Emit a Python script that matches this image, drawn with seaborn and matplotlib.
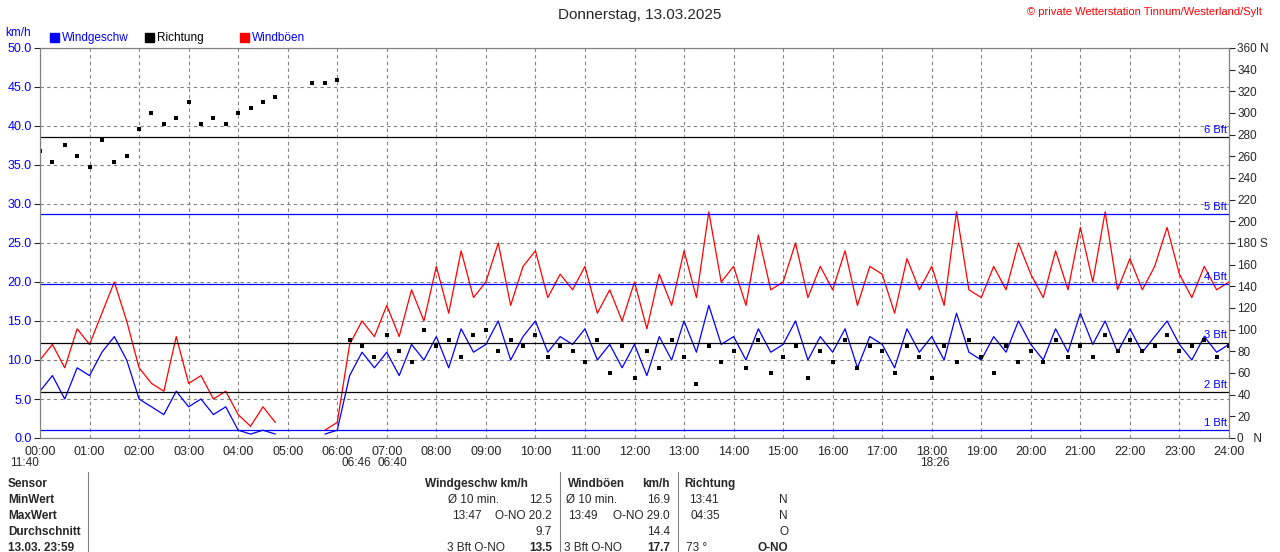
import numpy as np
import pandas as pd
import matplotlib
matplotlib.use("Agg")
import matplotlib.pyplot as plt
import seaborn as sns

nan = np.nan
# 15-minute readings 00:00 .. 24:00
speed = [6, 8, 5, 9, 8, 11, 13, 10, 5, 4, 3, 6, 4, 5, 3, 4, 1, 0.5, 1, 0.5,
         nan, nan, nan, 0.5, 1, 8, 11, 9, 11, 8, 12, 10, 13, 9, 14, 11, 12, 15, 10, 13,
         15, 11, 13, 12, 14, 10, 12, 9, 12, 8, 13, 10, 15, 11, 17, 12, 13, 10, 14, 11,
         12, 15, 10, 13, 11, 14, 9, 13, 12, 9, 14, 11, 13, 10, 16, 11, 10, 13, 11, 15,
         12, 10, 14, 11, 16, 12, 15, 11, 14, 11, 13, 15, 12, 10, 13, 11, 12]
gusts = [10, 12, 9, 14, 12, 16, 20, 15, 9, 7, 6, 13, 7, 8, 5, 6, 3, 1.5, 4, 2,
         nan, nan, nan, 1, 2, 12, 15, 13, 17, 13, 19, 15, 22, 16, 24, 18, 20, 25, 17, 22,
         24, 18, 21, 19, 22, 16, 19, 15, 20, 14, 21, 17, 24, 18, 29, 20, 22, 17, 26, 19,
         20, 25, 18, 22, 19, 24, 17, 22, 21, 16, 23, 19, 22, 17, 29, 19, 18, 22, 19, 25,
         21, 18, 24, 19, 27, 20, 29, 19, 23, 19, 22, 27, 21, 18, 22, 19, 20]
direction = [265, 255, 270, 260, 250, 275, 255, 260, 285, 300, 290, 295, 310, 290, 295, 290,
             300, 305, 310, 315, nan, nan, 328, 328, 330, 90, 85, 75, 95, 80, 70, 100,
             85, 90, 75, 95, 100, 80, 90, 85, 95, 75, 85, 80, 70, 90, 60, 85,
             55, 80, 65, 90, 75, 50, 85, 70, 80, 65, 90, 60, 75, 85, 55, 80,
             70, 90, 65, 85, 80, 60, 85, 75, 55, 85, 70, 90, 75, 60, 85, 70,
             80, 70, 90, 75, 85, 75, 95, 80, 90, 80, 85, 95, 80, 85, 90, 75, 85]
hours = np.arange(len(speed)) * 0.25
bft_levels = [1.0, 5.9, 12.2, 19.7, 28.7, 38.6]
bft_labels = ["1 Bft", "2 Bft", "3 Bft", "4 Bft", "5 Bft", "6 Bft"]
bft_colors = ["blue", "black", "black", "blue", "blue", "black"]

df = pd.DataFrame({"h": hours, "speed": speed, "gusts": gusts, "dir": direction})

sns.set_style("white")
plt.rcParams["font.family"] = ["Liberation Sans", "DejaVu Sans"]
fig = plt.figure(figsize=(12.8, 5.52), dpi=100)
ax = fig.add_axes([40 / 1280, 1 - 438 / 552, 1189 / 1280, 390 / 552])

# plain plot keeps the gap at the NaN values
ax.plot(df["h"], df["gusts"], color="red", lw=0.9)
ax.plot(df["h"], df["speed"], color="blue", lw=0.9)
ax2 = ax.twinx()
sns.scatterplot(data=df, x="h", y="dir", color="black", s=5, marker="s", lw=0, ax=ax2)

ax.set_xlim(0, 24)
ax.set_ylim(0, 50)
ax2.set_ylim(0, 360)
ax.set_xticks(range(25))
ax.set_xticklabels([f"{h:02d}:00" for h in range(25)], fontsize=9)
ax.set_yticks(np.arange(0, 51, 5))
ax.set_yticklabels([f"{v:.1f}" for v in np.arange(0, 51, 5)], fontsize=9, color="blue")
ax2.set_yticks(range(0, 361, 20))
rl = [str(v) for v in range(0, 361, 20)]
rl[0] = "0   N"; rl[9] = "180 S"; rl[18] = "360 N"
ax2.set_yticklabels(rl, fontsize=8.5)
ax.set_xlabel(""); ax.set_ylabel(""); ax2.set_ylabel("")
ax.grid(True, ls=(0, (3, 3)), color="gray", lw=0.8)
for a in (ax, ax2):
    a.tick_params(length=4, pad=2)
    for s in a.spines.values():
        s.set_color("gray")
for lv, lb, c in zip(bft_levels, bft_labels, bft_colors):
    ax.axhline(lv, color=c, lw=0.9)
    ax.text(23.95, lv + 0.3, lb, color="blue", fontsize=8, ha="right", va="bottom")

fig.text(0.5, 1 - 15 / 552, "Donnerstag, 13.03.2025", ha="center", va="center", fontsize=11)
fig.text(1262 / 1280, 1 - 12 / 552, "© private Wetterstation Tinnum/Westerland/Sylt",
         ha="right", va="center", fontsize=8, color="red")
fig.text(5 / 1280, 1 - 33 / 552, "km/h", fontsize=8.5, color="blue", va="center")
for x, lab, c in [(50, "Windgeschw", "blue"), (145, "Richtung", "black"), (240, "Windböen", "red")]:
    fig.patches.append(plt.Rectangle((x / 1280, 1 - 42 / 552), 9 / 1280, 9 / 552,
                                     color=c, transform=fig.transFigure))
    fig.text((x + 12) / 1280, 1 - 38 / 552, lab, fontsize=8.5, color="blue" if c != "black" else "black", va="center")

for x, t in [(10, "11:40"), (342, "06:46"), (377, "06:40"), (920, "18:26")]:
    fig.text(x / 1280, 1 - 463 / 552, t, fontsize=8.5, va="center")

rows = [("Sensor", 484), ("MinWert", 500), ("MaxWert", 516), ("Durchschnitt", 532), ("13.03. 23:59", 548)]
for t, y in rows:
    fig.text(8 / 1280, 1 - y / 552, t, fontsize=8.5, weight="bold", va="center")
cells = [
    (528, 484, "Windgeschw km/h", "right", "bold"), (568, 484, "Windböen", "left", "bold"),
    (670, 484, "km/h", "right", "bold"), (684, 484, "Richtung", "left", "bold"),
    (448, 500, "Ø 10 min.", "left", "normal"), (552, 500, "12.5", "right", "normal"),
    (566, 500, "Ø 10 min.", "left", "normal"), (670, 500, "16.9", "right", "normal"),
    (689, 500, "13:41", "left", "normal"), (788, 500, "N", "right", "normal"),
    (482, 516, "13:47", "right", "normal"), (552, 516, "O-NO 20.2", "right", "normal"),
    (598, 516, "13:49", "right", "normal"), (670, 516, "O-NO 29.0", "right", "normal"),
    (720, 516, "04:35", "right", "normal"), (788, 516, "N", "right", "normal"),
    (552, 532, "9.7", "right", "normal"), (670, 532, "14.4", "right", "normal"),
    (788, 532, "O", "right", "normal"),
    (505, 548, "3 Bft O-NO", "right", "normal"), (552, 548, "13.5", "right", "bold"),
    (622, 548, "3 Bft O-NO", "right", "normal"), (670, 548, "17.7", "right", "bold"),
    (686, 548, "73 °", "left", "normal"), (788, 548, "O-NO", "right", "bold"),
]
for x, y, t, ha, w in cells:
    fig.text(x / 1280, 1 - y / 552, t, fontsize=8.5, ha=ha, weight=w, va="center")
for x in (88, 560, 678):
    fig.add_artist(plt.Line2D([x / 1280, x / 1280], [0, 1 - 472 / 552], color="gray", lw=0.8))

fig.savefig("out.png", dpi=100)
